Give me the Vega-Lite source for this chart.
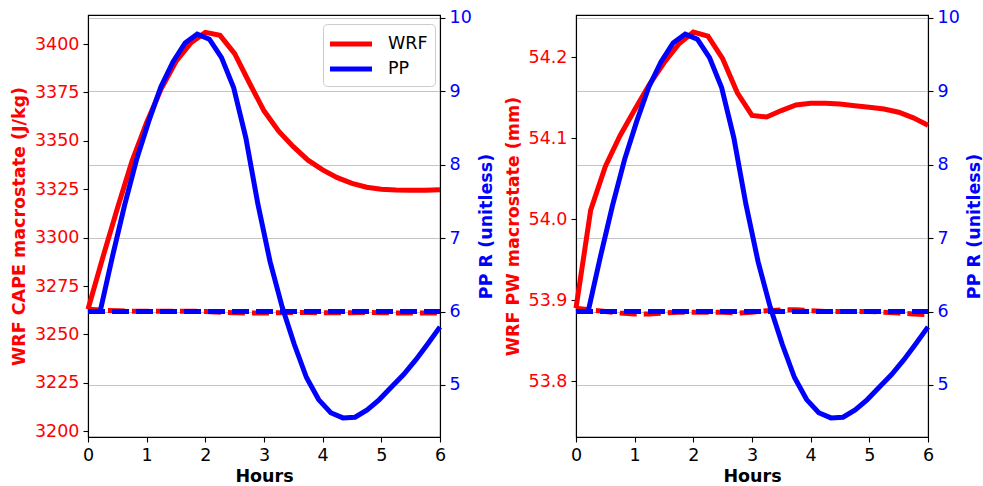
{
  "$schema": "https://vega.github.io/schema/vega-lite/v6.json",
  "padding": {"left": 9, "top": 8, "right": 5, "bottom": 0},
  "background": "white",
  "bounds": "flush",
  "spacing": 136,
  "resolve": {"scale": {"color": "independent"}},
  "datasets": {
    "cape_wrf": [
      {"h": 0, "v": 3263}, {"h": 0.25, "v": 3289.5}, {"h": 0.5, "v": 3315}, {"h": 0.75, "v": 3339.5},
      {"h": 1.0, "v": 3359.5}, {"h": 1.25, "v": 3377}, {"h": 1.5, "v": 3391}, {"h": 1.75, "v": 3400.5},
      {"h": 2.0, "v": 3406}, {"h": 2.25, "v": 3404.5}, {"h": 2.5, "v": 3395}, {"h": 2.75, "v": 3380},
      {"h": 3.0, "v": 3365.5}, {"h": 3.25, "v": 3355}, {"h": 3.5, "v": 3347}, {"h": 3.75, "v": 3340},
      {"h": 4.0, "v": 3335}, {"h": 4.25, "v": 3331}, {"h": 4.5, "v": 3328}, {"h": 4.75, "v": 3326},
      {"h": 5.0, "v": 3325}, {"h": 5.25, "v": 3324.6}, {"h": 5.5, "v": 3324.5}, {"h": 5.75, "v": 3324.5},
      {"h": 6.0, "v": 3324.7}
    ],
    "cape_ctrl": [
      {"h": 0, "v": 3263}, {"h": 0.25, "v": 3262.5}, {"h": 0.5, "v": 3262.2}, {"h": 0.75, "v": 3262},
      {"h": 1.0, "v": 3262}, {"h": 1.25, "v": 3262}, {"h": 1.5, "v": 3262}, {"h": 1.75, "v": 3262},
      {"h": 2.0, "v": 3261.8}, {"h": 2.25, "v": 3261.5}, {"h": 2.5, "v": 3261.2}, {"h": 2.75, "v": 3261},
      {"h": 3.0, "v": 3261}, {"h": 3.25, "v": 3261.2}, {"h": 3.5, "v": 3261.3}, {"h": 3.75, "v": 3261.3},
      {"h": 4.0, "v": 3261.2}, {"h": 4.25, "v": 3261.2}, {"h": 4.5, "v": 3261.2}, {"h": 4.75, "v": 3261.3},
      {"h": 5.0, "v": 3261.2}, {"h": 5.25, "v": 3261.1}, {"h": 5.5, "v": 3261}, {"h": 5.75, "v": 3261},
      {"h": 6.0, "v": 3261}
    ],
    "pw_wrf": [
      {"h": 0, "v": 53.890}, {"h": 0.25, "v": 54.011}, {"h": 0.5, "v": 54.065}, {"h": 0.75, "v": 54.103},
      {"h": 1.0, "v": 54.135}, {"h": 1.25, "v": 54.166}, {"h": 1.5, "v": 54.193}, {"h": 1.75, "v": 54.216},
      {"h": 2.0, "v": 54.231}, {"h": 2.25, "v": 54.226}, {"h": 2.5, "v": 54.198}, {"h": 2.75, "v": 54.156},
      {"h": 3.0, "v": 54.128}, {"h": 3.25, "v": 54.126}, {"h": 3.5, "v": 54.134}, {"h": 3.75, "v": 54.141},
      {"h": 4.0, "v": 54.143}, {"h": 4.25, "v": 54.143}, {"h": 4.5, "v": 54.142}, {"h": 4.75, "v": 54.140},
      {"h": 5.0, "v": 54.138}, {"h": 5.25, "v": 54.136}, {"h": 5.5, "v": 54.132}, {"h": 5.75, "v": 54.125},
      {"h": 6.0, "v": 54.116}
    ],
    "pw_ctrl": [
      {"h": 0, "v": 53.890}, {"h": 0.25, "v": 53.888}, {"h": 0.5, "v": 53.886}, {"h": 0.75, "v": 53.884},
      {"h": 1.0, "v": 53.883}, {"h": 1.25, "v": 53.883}, {"h": 1.5, "v": 53.884}, {"h": 1.75, "v": 53.885},
      {"h": 2.0, "v": 53.885}, {"h": 2.25, "v": 53.885}, {"h": 2.5, "v": 53.885}, {"h": 2.75, "v": 53.884},
      {"h": 3.0, "v": 53.885}, {"h": 3.25, "v": 53.887}, {"h": 3.5, "v": 53.888}, {"h": 3.75, "v": 53.888},
      {"h": 4.0, "v": 53.887}, {"h": 4.25, "v": 53.886}, {"h": 4.5, "v": 53.886}, {"h": 4.75, "v": 53.886},
      {"h": 5.0, "v": 53.886}, {"h": 5.25, "v": 53.885}, {"h": 5.5, "v": 53.884}, {"h": 5.75, "v": 53.883},
      {"h": 6.0, "v": 53.882}
    ],
    "pp": [
      {"h": 0, "v": 6.0}, {"h": 0.2069, "v": 6.0}, {"h": 0.4138, "v": 6.74}, {"h": 0.6207, "v": 7.44},
      {"h": 0.8276, "v": 8.07}, {"h": 1.0345, "v": 8.59}, {"h": 1.2414, "v": 9.06}, {"h": 1.4483, "v": 9.40},
      {"h": 1.6552, "v": 9.66}, {"h": 1.8621, "v": 9.78}, {"h": 2.0690, "v": 9.71}, {"h": 2.2759, "v": 9.46},
      {"h": 2.4828, "v": 9.05}, {"h": 2.6897, "v": 8.37}, {"h": 2.8966, "v": 7.46}, {"h": 3.1034, "v": 6.68},
      {"h": 3.3103, "v": 6.06}, {"h": 3.5172, "v": 5.55}, {"h": 3.7241, "v": 5.10}, {"h": 3.9310, "v": 4.80},
      {"h": 4.1379, "v": 4.62}, {"h": 4.3448, "v": 4.55}, {"h": 4.5517, "v": 4.56}, {"h": 4.7586, "v": 4.66},
      {"h": 4.9655, "v": 4.80}, {"h": 5.1724, "v": 4.97}, {"h": 5.3793, "v": 5.14}, {"h": 5.5862, "v": 5.34},
      {"h": 5.7931, "v": 5.56}, {"h": 6.0, "v": 5.79}
    ],
    "pp_ctrl": [
      {"h": 0, "v": 6.0}, {"h": 0.5, "v": 6.0}, {"h": 1.0, "v": 6.0}, {"h": 1.5, "v": 6.0},
      {"h": 2.0, "v": 6.0}, {"h": 2.5, "v": 6.0}, {"h": 3.0, "v": 6.0}, {"h": 3.5, "v": 6.0},
      {"h": 4.0, "v": 6.0}, {"h": 4.5, "v": 6.0}, {"h": 5.0, "v": 6.0}, {"h": 5.5, "v": 6.0},
      {"h": 6.0, "v": 6.0}
    ]
  },
  "hconcat": [
    {
      "width": 352,
      "height": 422,
      "resolve": {"scale": {"y": "independent"}},
      "layer": [
        {
          "encoding": {
            "x": {"field": "h", "type": "quantitative", "scale": {"domain": [0, 6], "nice": false},
                  "axis": {"values": [0, 1, 2, 3, 4, 5, 6], "format": "d", "title": "Hours", "titlePadding": 4}},
            "y": {"field": "v", "type": "quantitative", "scale": {"domain": [3197, 3415], "nice": false, "zero": false},
                  "axis": {"orient": "left", "values": [3200, 3225, 3250, 3275, 3300, 3325, 3350, 3375, 3400], "format": "d",
                           "title": "WRF CAPE macrostate (J/kg)", "labelColor": "#ff0000", "titleColor": "#ff0000"}}
          },
          "layer": [
            {"data": {"name": "cape_ctrl"}, "mark": {"type": "line", "color": "#ff0000", "strokeWidth": 5, "strokeDash": [17, 7], "strokeDashOffset": 4}},
            {"data": {"name": "cape_wrf"}, "mark": {"type": "line", "strokeWidth": 5},
             "encoding": {"color": {"datum": "WRF", "type": "nominal",
               "scale": {"domain": ["WRF", "PP"], "range": ["#ff0000", "#0000ff"]},
               "legend": {"orient": "none", "legendX": 235, "legendY": 9, "title": null, "symbolType": "M-2,0H2",
                          "symbolStrokeWidth": 5, "symbolSize": 441, "symbolOffset": 8, "labelFontSize": 17.5, "labelFont": "DejaVu Sans",
                          "labelColor": "black", "padding": 7, "rowPadding": 2, "labelOffset": 24,
                          "strokeColor": "#cccccc", "cornerRadius": 4, "fillColor": "white"}}}}
          ]
        },
        {
          "encoding": {
            "x": {"field": "h", "type": "quantitative", "scale": {"domain": [0, 6], "nice": false}},
            "y": {"field": "v", "type": "quantitative", "scale": {"domain": [4.29, 10.04], "nice": false, "zero": false},
                  "axis": {"orient": "right", "values": [5, 6, 7, 8, 9, 10], "format": "d", "title": "PP R (unitless)",
                           "labelColor": "#0000ff", "titleColor": "#0000ff", "grid": true, "gridColor": "#c4c4c4", "gridWidth": 1,
                           "titleAngle": 270, "titleBaseline": "top"}}
          },
          "layer": [
            {"data": {"name": "pp"}, "mark": {"type": "line", "strokeWidth": 5},
             "encoding": {"color": {"datum": "PP", "type": "nominal",
               "scale": {"domain": ["WRF", "PP"], "range": ["#ff0000", "#0000ff"]}}}},
            {"data": {"name": "pp_ctrl"}, "mark": {"type": "line", "color": "#0000ff", "strokeWidth": 5, "strokeDash": [17, 7]}}
          ]
        }
      ]
    },
    {
      "width": 352,
      "height": 422,
      "resolve": {"scale": {"y": "independent"}},
      "layer": [
        {
          "encoding": {
            "x": {"field": "h", "type": "quantitative", "scale": {"domain": [0, 6], "nice": false},
                  "axis": {"values": [0, 1, 2, 3, 4, 5, 6], "format": "d", "title": "Hours", "titlePadding": 4}},
            "y": {"field": "v", "type": "quantitative", "scale": {"domain": [53.731, 54.252], "nice": false, "zero": false},
                  "axis": {"orient": "left", "values": [53.8, 53.9, 54.0, 54.1, 54.2], "format": ".1f",
                           "title": "WRF PW macrostate (mm)", "labelColor": "#ff0000", "titleColor": "#ff0000"}}
          },
          "layer": [
            {"data": {"name": "pw_ctrl"}, "mark": {"type": "line", "color": "#ff0000", "strokeWidth": 5, "strokeDash": [17, 7], "strokeDashOffset": 4}},
            {"data": {"name": "pw_wrf"}, "mark": {"type": "line", "color": "#ff0000", "strokeWidth": 5}}
          ]
        },
        {
          "encoding": {
            "x": {"field": "h", "type": "quantitative", "scale": {"domain": [0, 6], "nice": false}},
            "y": {"field": "v", "type": "quantitative", "scale": {"domain": [4.29, 10.04], "nice": false, "zero": false},
                  "axis": {"orient": "right", "values": [5, 6, 7, 8, 9, 10], "format": "d", "title": "PP R (unitless)",
                           "labelColor": "#0000ff", "titleColor": "#0000ff", "grid": true, "gridColor": "#c4c4c4", "gridWidth": 1,
                           "titleAngle": 270, "titleBaseline": "top"}}
          },
          "layer": [
            {"data": {"name": "pp"}, "mark": {"type": "line", "color": "#0000ff", "strokeWidth": 5}},
            {"data": {"name": "pp_ctrl"}, "mark": {"type": "line", "color": "#0000ff", "strokeWidth": 5, "strokeDash": [17, 7]}}
          ]
        }
      ]
    }
  ],
  "config": {
    "font": "DejaVu Sans",
    "view": {"stroke": "black", "strokeWidth": 1.1},
    "axis": {
      "labelFont": "DejaVu Sans", "titleFont": "DejaVu Sans", "labelFontSize": 17.5, "titleFontSize": 17.5,
      "titleFontWeight": "bold", "tickColor": "black", "domainColor": "black", "tickSize": 5, "tickWidth": 1.1,
      "domainWidth": 1.1, "labelPadding": 4, "titlePadding": 6, "grid": false, "labelColor": "black", "titleColor": "black",
      "labelFlush": false, "labelOverlap": false
    }
  }
}
